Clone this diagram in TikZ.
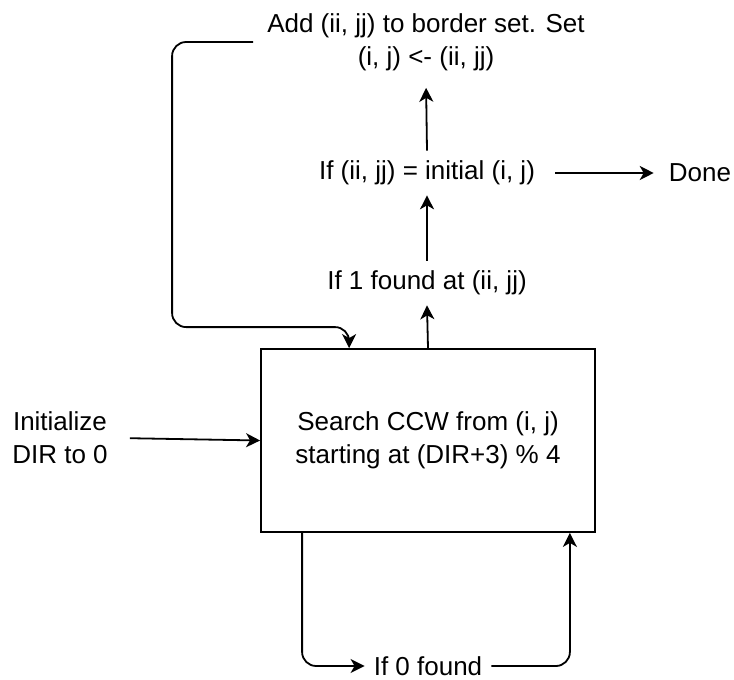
\documentclass[tikz,border=0pt]{standalone}
\usepackage{fontspec}
\setmainfont{Liberation Sans}
\usetikzlibrary{arrows.meta}
\begin{document}
\begin{tikzpicture}[x=1pt,y=-1pt,
	lbl/.style={font=\fontsize{26}{33}\selectfont,align=center,inner xsep=10pt,inner ysep=10pt},
	arr/.style={line width=1.8pt,-{Stealth[length=14pt,width=14pt,inset=4pt]}},
	wire/.style={line width=1.8pt}]
	\useasboundingbox (0,0) rectangle (734,680);
	\node[lbl] (add) at (426,42) {Add (ii, jj) to border set. Set\\(i, j) <- (ii, jj)};
	\node[lbl] (same) at (427,173) {If (ii, jj) = initial (i, j)};
	\node[lbl] (done) at (700,173) {Done};
	\node[lbl] (found1) at (427,283) {If 1 found at (ii, jj)};
	\node[lbl,draw,line width=1.8pt,minimum width=334pt,minimum height=183pt] (box) at (428,440.5) {Search CCW from (i, j)\\starting at (DIR+3) \% 4};
	\node[lbl] (init) at (60,438) {Initialize\\DIR to 0};
	\node[lbl,inner xsep=9pt,inner ysep=4pt] (found0) at (428,666) {If 0 found};
	\draw[arr] (box.north) -- (found1.south);
	\draw[arr] (found1.north) -- (same.south);
	\draw[arr,shorten >=7pt] (same.north) -- (add.south);
	\draw[arr,shorten <=10pt,shorten >=5pt] (same.east) -- (done.west);
	\draw[arr,shorten <=12pt] (init.east) -- (box.west);
	\draw[arr,rounded corners=14pt] ([xshift=-4pt]add.west) -| ([xshift=-88pt,yshift=21pt]box.north west) -| ([xshift=89pt]box.north west);
	\draw[arr,rounded corners=14pt] ([xshift=42pt]box.south west) |- (found0.west);
	\draw[arr,rounded corners=14pt] (found0.east) -| ([xshift=-26pt]box.south east);
\end{tikzpicture}
\end{document}
